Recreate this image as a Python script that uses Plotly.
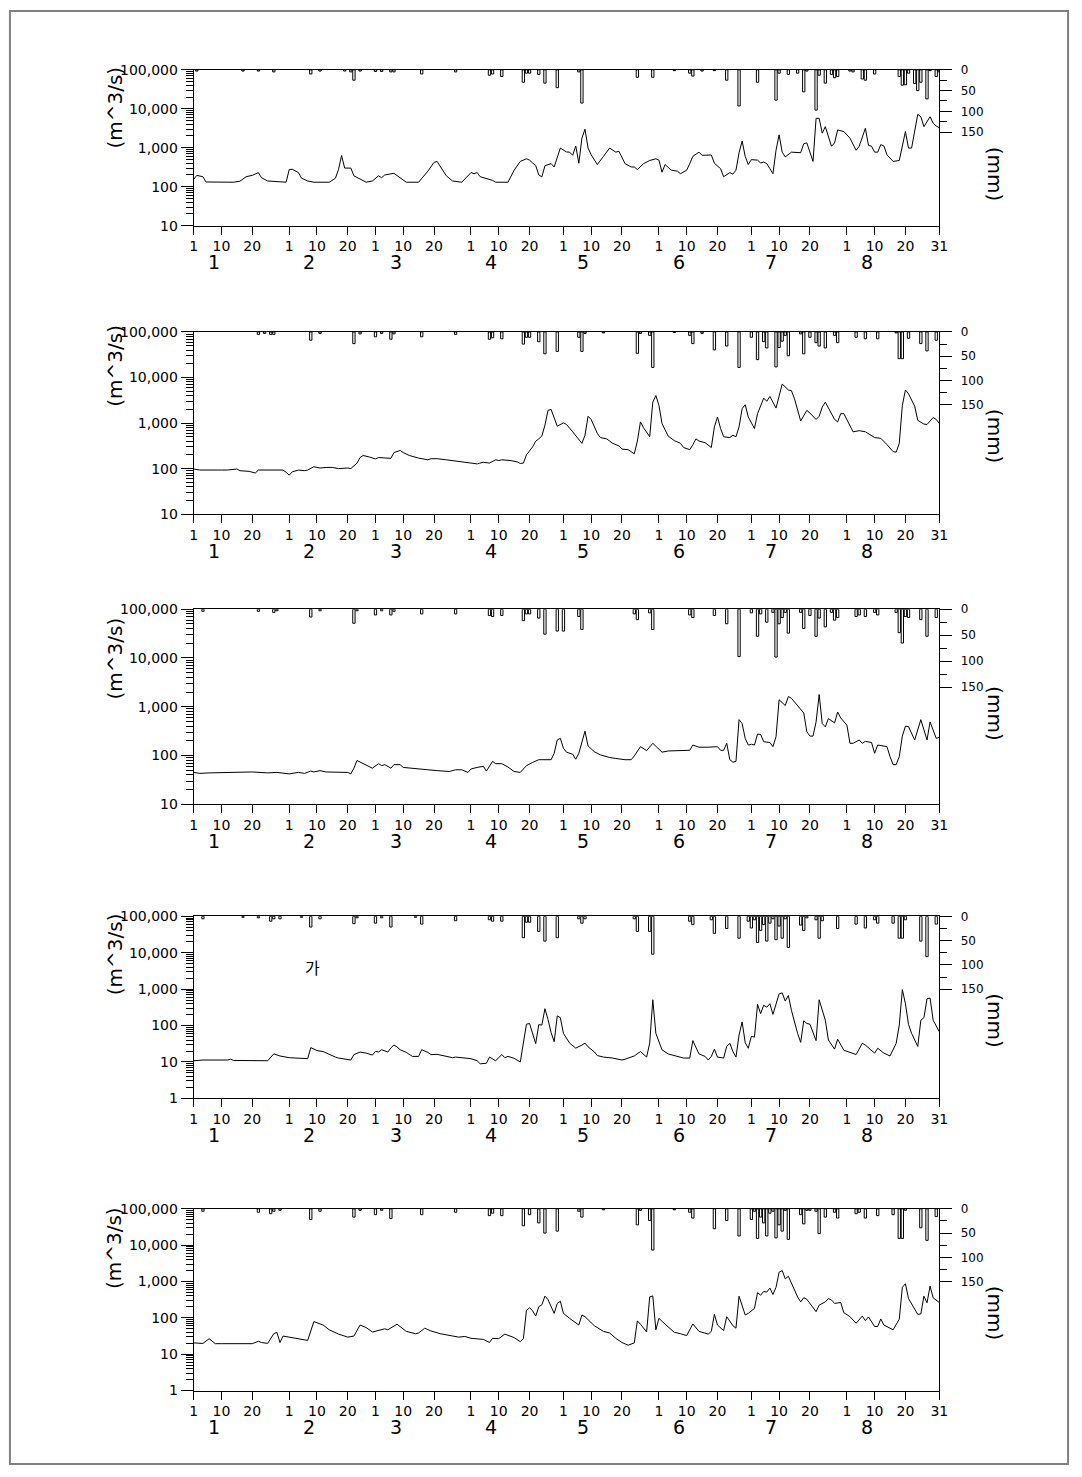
import plotly.graph_objects as go

# ---------------- data (day index: 0 = Jan 1 ... 242 = Aug 31) ----------------
Q1_DAYS = [0,1,3,4,13,15,17,19,21,22,24,30,31,32,34,35,37,39,44,46,47,48,49,51,52,54,56,58,59,60,61,62,65,67,69,73,76,78,79,82,84,87,88,90,91,92,93,97,98,102,104,106,108,109,110,111,112,113,114,116,117,119,121,122,123,124,125,126,127,128,129,131,133,135,137,138,140,142,143,144,146,148,150,151,152,153,155,157,158,160,161,162,164,165,168,169,171,172,174,175,176,177,178,179,180,181,183,184,185,186,187,188,189,190,191,192,194,197,198,199,201,202,203,204,205,207,208,209,211,213,215,216,218,219,220,221,222,223,224,225,227,229,231,232,233,235,236,237,239,240,241,242]
Q1_VALS = [155,195,180,132,130,138,180,195,230,170,140,130,275,280,230,165,140,130,130,165,275,630,300,300,190,155,130,140,160,190,170,200,220,165,130,130,250,420,445,190,140,130,155,230,215,230,180,145,130,130,265,445,520,480,407,350,200,178,345,390,320,980,780,770,640,1110,400,1760,2990,980,660,370,600,980,770,810,390,320,320,275,390,470,520,480,235,370,265,250,215,265,390,600,770,640,650,400,290,180,230,210,265,745,1480,600,370,495,480,407,430,390,290,215,860,2140,770,580,770,745,1270,1330,445,5680,5680,2360,3470,1090,1330,2860,2600,1760,860,1090,3160,1150,1090,770,770,1200,1110,660,445,470,2600,980,980,7180,6250,3470,6250,4250,3600,3260]
R1_DAYS = [1,16,21,26,38,41,49,51,52,54,59,61,64,65,74,85,96,97,100,107,108,109,112,114,118,125,126,144,149,156,161,162,165,169,173,177,183,189,190,193,196,198,199,202,203,205,207,208,209,213,214,217,218,221,229,230,231,232,234,235,236,238,239,241,242]
R1_MM = [3,3,3,5,10,3,3,5,25,3,4,4,5,5,10,5,13,10,16,30,8,8,11,32,43,5,80,18,18,2,8,15,3,2,25,87,30,73,8,11,8,53,3,97,13,32,11,19,16,3,5,22,25,10,16,37,36,8,33,50,30,70,2,16,5]

Q2_DAYS = [0,2,9,11,14,15,18,20,21,23,25,27,29,30,31,32,34,36,37,39,41,43,45,47,50,51,53,54,55,57,59,60,62,64,65,67,68,70,73,76,77,79,82,84,86,88,90,92,94,96,98,99,100,103,105,106,107,108,110,111,112,113,114,115,116,118,120,121,123,126,127,128,129,131,132,134,136,138,139,141,143,144,145,146,148,149,150,151,152,154,156,158,159,161,162,163,164,166,168,169,170,171,172,174,175,176,177,178,179,180,182,183,185,186,187,189,191,192,193,194,195,197,199,200,202,203,204,205,206,208,209,210,211,213,214,216,218,221,223,225,227,228,229,230,231,232,234,235,237,238,240,241,242]
Q2_VALS = [98,93,93,93,98,90,87,80,93,93,90,93,93,83,72,85,93,90,93,110,103,106,106,100,103,100,132,175,194,180,163,175,170,168,225,250,225,194,170,156,165,165,156,150,144,140,132,127,138,132,156,150,156,150,140,130,132,200,300,400,450,520,900,1900,1990,853,1010,930,643,359,540,1410,1200,592,480,450,359,315,268,260,211,403,1060,790,500,2880,4020,2440,975,517,411,359,290,260,333,450,403,370,290,826,1360,760,500,480,540,500,826,2070,2520,1360,760,1610,3520,3000,3840,2130,7190,6020,5330,5140,3420,1110,1900,1660,1200,1410,2240,2880,2160,1200,1060,1610,1610,897,643,680,643,480,462,337,236,230,359,2440,5330,4400,2340,1150,950,930,1320,1200,975]
R2_DAYS = [21,23,25,26,38,41,52,54,59,61,64,65,74,85,96,97,100,107,108,109,112,114,118,125,126,127,133,144,145,148,149,156,161,162,165,169,173,177,181,183,185,186,189,190,191,192,193,197,198,200,202,203,205,208,209,215,218,222,228,229,230,232,236,238,241]
R2_MM = [5,3,5,5,17,3,24,4,10,3,15,4,10,5,15,12,14,25,11,11,20,45,40,11,40,3,2,44,3,7,73,1,7,24,3,37,29,73,11,57,20,33,72,32,19,7,49,4,45,11,22,29,33,7,22,11,14,14,2,55,55,13,24,39,17]

Q3_DAYS = [0,2,5,13,19,24,27,31,34,36,38,39,41,43,48,50,51,52,53,54,56,58,60,61,62,64,65,67,68,70,73,76,79,81,83,85,87,89,90,92,94,95,97,98,100,102,104,106,107,108,110,112,116,117,118,119,120,121,123,124,125,127,128,130,132,135,137,140,142,143,145,147,149,151,152,154,158,161,162,164,167,170,171,172,173,174,175,176,177,178,179,180,181,182,183,184,185,187,188,189,190,192,193,194,198,199,200,201,202,203,204,205,206,208,209,210,212,213,214,216,217,218,220,221,222,225,226,227,228,229,230,231,232,234,236,238,239,241,242]
Q3_VALS = [45,43,44,45,46,44,45,42,45,43,48,46,49,46,45,45,42,55,79,73,62,55,68,62,65,55,65,65,57,55,53,51,49,48,47,51,51,45,53,57,60,48,76,68,68,58,47,45,53,62,72,82,82,111,208,225,141,117,106,84,111,316,157,120,103,91,87,82,82,98,152,126,178,134,117,124,128,128,164,148,148,152,128,128,178,82,73,76,544,452,224,164,170,164,275,270,192,185,152,243,1390,1060,1620,1490,745,306,250,250,489,1780,452,387,572,467,780,590,419,178,178,208,178,195,185,111,164,152,95,65,65,95,250,400,390,208,544,208,489,225,236]
R3_DAYS = [3,21,26,27,38,41,52,53,59,61,64,65,74,85,96,97,100,107,108,109,112,114,118,120,125,126,143,144,148,149,161,162,169,173,177,181,183,184,186,188,189,190,191,192,193,197,198,200,202,203,205,207,208,209,215,216,218,221,222,228,229,230,231,232,236,238,241]
R3_MM = [4,4,6,3,15,3,27,3,11,3,11,4,9,9,12,14,12,22,9,9,17,48,42,42,14,39,9,20,7,39,11,16,12,28,91,7,52,9,25,6,92,28,16,6,46,6,37,12,52,17,34,6,21,16,14,11,14,6,11,6,45,65,14,16,20,52,16]

Q4_DAYS = [0,3,11,12,13,21,22,24,26,28,31,35,37,38,39,40,42,44,46,47,50,51,52,54,56,58,59,60,61,63,64,65,66,67,69,71,73,74,76,77,79,82,84,85,88,90,92,93,95,96,98,100,101,102,104,106,108,109,111,112,113,114,115,116,117,118,119,120,122,124,126,127,128,130,131,133,136,139,140,143,145,147,148,149,150,152,154,157,159,161,162,164,166,167,168,169,170,172,173,174,175,176,177,178,179,180,181,182,183,184,185,186,187,188,189,190,191,192,193,194,196,197,198,199,200,201,202,203,205,206,208,209,211,215,217,218,221,222,224,226,228,229,230,231,232,233,235,236,237,238,239,240,242]
Q4_VALS = [10.8,11.3,11.3,11.9,11,11,11.3,10.8,16.7,14.6,13.1,12.3,12.3,24.8,23,20.6,19.3,15.9,13.6,12.8,12,11.3,15.9,18.7,17.5,15.5,19.5,18.7,21.7,18.7,24.3,29.3,25.8,21.7,18.3,14.2,14.2,21.7,18.3,15.9,16.2,14.6,13.1,13.6,12.6,12.3,10.8,8.9,9.2,13.6,10.8,15.9,13.1,14.2,12.6,10,109,114,32,106,103,291,146,64,36,184,165,61,33,24,29,33,26,19,15,13.6,12.8,11.3,11.9,14.6,19.3,13.6,33,511,61,21.5,16.6,14.2,12.8,12.8,38.5,16.6,14.2,11.3,14.2,22.5,13.6,12.8,26.7,32.6,19.3,13.6,54.8,126,34,23.8,50.7,48,382,213,361,320,398,203,398,743,790,470,670,262,61,34.6,135,114,109,67.6,38.5,511,140,40,22.5,42.2,21,16,32.6,29,17.5,23.8,17.5,14.6,32.6,103,975,398,108,61,26.7,140,165,545,570,140,67.6]
R4_DAYS = [3,16,21,25,26,28,35,38,41,52,53,59,61,64,72,74,85,96,97,100,107,108,109,112,114,118,125,126,127,143,144,148,149,161,162,168,169,173,177,180,181,182,183,184,185,186,187,188,189,190,191,192,193,197,198,199,202,203,204,209,215,218,221,222,227,229,230,231,236,238,241]
R4_MM = [5,2,3,10,5,5,2,22,5,15,3,14,3,22,2,16,9,7,10,10,44,12,12,31,51,44,5,14,5,5,31,31,78,10,17,7,35,25,45,10,24,7,54,29,17,51,14,5,48,20,45,5,64,18,29,3,7,45,9,25,16,24,7,14,14,45,45,7,51,83,16]

Q5_DAYS = [0,3,5,7,9,19,21,22,24,26,27,28,29,31,35,37,39,42,44,47,50,52,54,56,58,60,62,63,66,67,69,72,73,75,77,80,84,86,88,90,94,96,97,99,101,104,106,107,108,109,110,111,112,113,114,115,117,118,119,120,122,124,125,126,127,130,133,135,137,139,141,143,144,145,147,148,149,150,151,153,156,158,160,162,164,167,168,169,170,172,173,175,176,177,179,180,182,183,184,185,186,187,188,189,190,191,192,193,194,196,197,198,199,202,203,205,206,207,208,210,211,213,215,217,218,219,221,222,223,224,227,229,230,231,232,234,235,236,237,238,239,240,242]
Q5_VALS = [20.5,19.8,26.8,19.5,19.5,19.5,22.7,21,19.8,36.7,40,21,31.6,29.5,26.3,24,79,63.5,47,35.8,29.5,31.6,63.5,54,40.8,46,50,47,67,57.5,42.5,36.7,38.4,52,43.6,36.7,31.6,29.5,30.8,27.4,25.6,21,27.4,26.8,35.8,28.6,22.2,26.8,160,190,157,112,202,230,398,318,133,250,288,133,97,72,63.5,120,108,61,42.5,38.4,27.4,21,17.7,20.5,82.6,67,40.8,378,402,47,97,67,40,36.7,32.5,68,42.5,35.8,42.5,125,63.5,44.6,108,61,52,394,120,133,182,494,420,537,512,662,438,694,1800,2000,1185,1400,869,378,275,360,325,148,225,275,340,310,250,265,139,108,71,112,84,106,58,58,93.5,63.5,47,92,694,869,340,175,125,128,394,260,750,355,265]
R5_DAYS = [3,21,25,26,28,38,41,52,54,59,61,64,74,85,96,97,100,107,109,112,114,118,125,126,133,144,145,148,149,156,161,162,169,173,177,181,182,183,184,185,186,187,188,189,190,191,192,193,197,198,199,200,202,203,205,208,209,215,216,218,222,227,229,230,231,236,238,241]
R5_MM = [5,7,10,5,3,22,5,17,3,12,3,20,12,7,14,9,14,35,12,29,50,46,5,17,2,33,3,24,85,2,7,19,41,24,56,22,5,61,17,29,56,9,5,60,33,46,3,63,12,31,3,3,5,51,17,7,19,10,7,19,14,12,61,61,3,39,65,16]

MONTH_NAMES = ["1", "2", "3", "4", "5", "6", "7", "8"]
MONTH_STARTS = [0, 31, 59, 90, 120, 151, 181, 212]
LAST_DAY = 242
LAST_DAY_LABEL = "31"
Q_TICKS = [1, 10, 100, 1000, 10000, 100000]
Q_TICK_TEXT = ["1", "10", "100", "1,000", "10,000", "100,000"]
RAIN_TICKS = [0, 50, 100, 150]
RAIN_MINOR = [25, 75, 125]
Q_UNIT = "(m^3/s)"
RAIN_UNIT = "(mm)"
NOTE_TEXT = "가"

PANELS = [
    (Q1_DAYS, Q1_VALS, R1_DAYS, R1_MM, [1, 5]),
    (Q2_DAYS, Q2_VALS, R2_DAYS, R2_MM, [1, 5]),
    (Q3_DAYS, Q3_VALS, R3_DAYS, R3_MM, [1, 5]),
    (Q4_DAYS, Q4_VALS, R4_DAYS, R4_MM, [0, 5]),
    (Q5_DAYS, Q5_VALS, R5_DAYS, R5_MM, [0, 5]),
]

# ---------------- layout geometry (pixels) ----------------
W, H = 1082, 1477
X_LEFT, X_RIGHT = 192, 946.7
PANEL_PX = [(62.5, 220), (327.5, 511.7), (607.8, 805), (918.3, 1102.3), (1214, 1397.7)]
UNIT_Y = [101, 362, 658, 957, 1254]

FONT = "DejaVu Sans, Arial, sans-serif"

x_tickvals, x_ticktext = [], []
for s in MONTH_STARTS:
    for off, lab in ((0, "1"), (9, "10"), (19, "20")):
        x_tickvals.append(s + off)
        x_ticktext.append(lab)
x_tickvals.append(LAST_DAY)
x_ticktext.append(LAST_DAY_LABEL)

minor_log = [m * 10 ** k for k in range(0, 5) for m in range(2, 10)]

fig = go.Figure()
layout = dict(
    width=W, height=H, autosize=False,
    margin=dict(l=0, r=0, t=0, b=0),
    paper_bgcolor="white", plot_bgcolor="white",
    showlegend=False, font=dict(family=FONT, color="black"),
    bargap=0,
)
annotations = []
shapes = []

for i, (qd, qv, rd, rm, yr) in enumerate(PANELS):
    n = i + 1
    xname = "x" if n == 1 else f"x{n}"
    yq = "y" if n == 1 else f"y{2 * n - 1}"
    yrn = f"y{2 * n}"
    xkey = "xaxis" if n == 1 else f"xaxis{n}"
    yqkey = "yaxis" if n == 1 else f"yaxis{2 * n - 1}"
    yrkey = f"yaxis{2 * n}"
    top, bot = PANEL_PX[i]
    dom = [1 - bot / H, 1 - top / H]

    fig.add_trace(go.Scatter(x=qd, y=qv, mode="lines", xaxis=xname, yaxis=yq,
                             line=dict(color="black", width=1), hoverinfo="skip"))
    fig.add_trace(go.Bar(x=rd, y=rm, xaxis=xname, yaxis=yrn, width=0.75,
                         marker=dict(color="white", line=dict(color="black", width=1)),
                         hoverinfo="skip"))

    layout[xkey] = dict(
        domain=[X_LEFT / W, X_RIGHT / W], anchor=yq, range=[0, LAST_DAY],
        showline=True, linecolor="black", linewidth=1, mirror=True,
        ticks="outside", ticklen=8, tickcolor="black", tickwidth=1,
        tickvals=x_tickvals, ticktext=x_ticktext, showgrid=False, zeroline=False,
        tickfont=dict(family=FONT, size=14, color="black"),
    )
    layout[yqkey] = dict(
        domain=dom, anchor=xname, type="log", range=yr,
        showline=True, linecolor="black", linewidth=1,
        ticks="outside", ticklen=12, tickcolor="black", tickwidth=1,
        tickvals=Q_TICKS, ticktext=Q_TICK_TEXT, showgrid=False, zeroline=False,
        tickfont=dict(family=FONT, size=14, color="black"),
        minor=dict(tickvals=minor_log, ticks="outside", ticklen=7,
                   tickcolor="black", tickwidth=1, showgrid=False),
    )
    layout[yrkey] = dict(
        overlaying=yq, anchor=xname, side="right", range=[375, 0],
        showline=True, linecolor="black", linewidth=1,
        ticks="outside", ticklen=12, tickcolor="black", tickwidth=1,
        tickvals=RAIN_TICKS, ticktext=[str(v) for v in RAIN_TICKS],
        showgrid=False, zeroline=False, ticklabelstandoff=6,
        tickfont=dict(family=FONT, size=12, color="black"),
        minor=dict(tickvals=RAIN_MINOR, ticks="outside", ticklen=7,
                   tickcolor="black", tickwidth=1, showgrid=False),
    )

    for name, s in zip(MONTH_NAMES, MONTH_STARTS):
        annotations.append(dict(x=s + 6.5, xref=xname, y=1 - (bot + 37) / H, yref="paper",
                                text=name, showarrow=False, xanchor="center", yanchor="middle",
                                font=dict(family=FONT, size=19, color="black")))
    annotations.append(dict(x=112 / W, y=1 - UNIT_Y[i] / H, xref="paper", yref="paper",
                            text=Q_UNIT, textangle=-90, showarrow=False,
                            xanchor="center", yanchor="middle",
                            font=dict(family=FONT, size=20, color="black")))
    annotations.append(dict(x=1003 / W, y=1 - (top + 106) / H, xref="paper", yref="paper",
                            text=RAIN_UNIT, textangle=90, showarrow=False,
                            xanchor="center", yanchor="middle",
                            font=dict(family=FONT, size=20, color="black")))

annotations.append(dict(x=312 / W, y=1 - 970 / H, xref="paper", yref="paper",
                        text=NOTE_TEXT, showarrow=False, xanchor="center", yanchor="middle",
                        font=dict(family="Noto Sans CJK KR", size=16, color="black")))

shapes.append(dict(type="rect", xref="paper", yref="paper",
                   x0=6 / W, x1=1077 / W, y0=1 - 1472 / H, y1=1 - 3 / H,
                   line=dict(color="#808080", width=2), fillcolor="rgba(0,0,0,0)"))

layout["annotations"] = annotations
layout["shapes"] = shapes
fig.update_layout(**layout)

PAGE_FIX = ("document.documentElement.style.margin='0';"
            "document.body.style.margin='0';document.body.style.padding='0';"
            "document.documentElement.style.overflow='hidden';"
            "document.body.style.overflow='hidden';")
fig.write_html("out.html", post_script=PAGE_FIX,
               config={"displayModeBar": False, "staticPlot": True})
